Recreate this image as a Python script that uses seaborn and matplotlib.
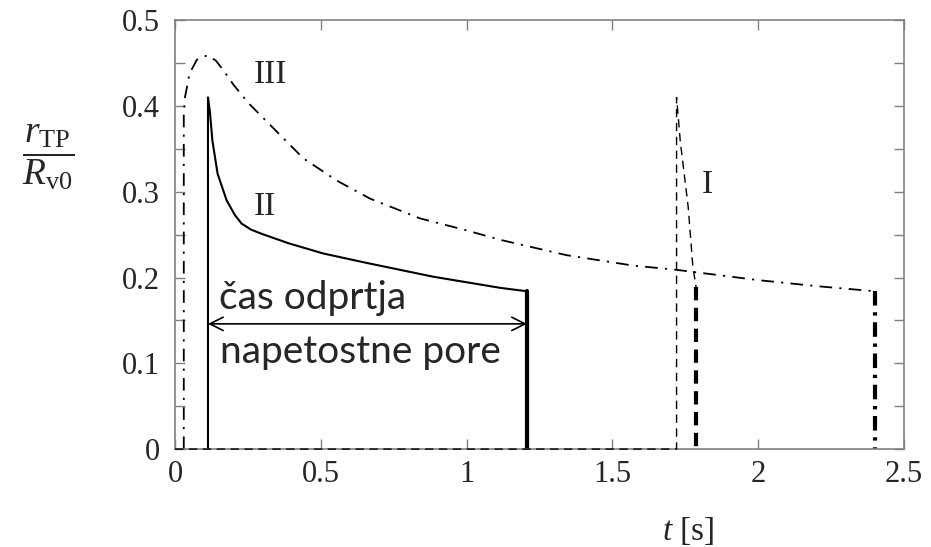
import numpy as np
import pandas as pd
import matplotlib
matplotlib.use("Agg")
import matplotlib.pyplot as plt
import seaborn as sns

# curve III (dash-dot)
t3 = [0.03, 0.03, 0.034, 0.05, 0.075, 0.11, 0.14, 0.165, 0.2, 0.25, 0.326, 0.44,
      0.555, 0.669, 0.84, 1.0, 1.115, 1.344, 1.57, 1.72, 2.0, 2.2, 2.40]
r3 = [0.0, 0.39, 0.41, 0.438, 0.454, 0.459, 0.453, 0.442, 0.425, 0.404, 0.378, 0.339,
      0.313, 0.292, 0.269, 0.255, 0.244, 0.226, 0.214, 0.209, 0.197, 0.19, 0.184]
# curve II (solid)
t2 = [0.113, 0.113, 0.12, 0.128, 0.146, 0.177, 0.205, 0.228, 0.26, 0.297, 0.389,
      0.509, 0.658, 0.885, 1.115, 1.207]
r2 = [0.0, 0.41, 0.392, 0.36, 0.321, 0.29, 0.273, 0.263, 0.256, 0.251, 0.24,
      0.228, 0.217, 0.201, 0.188, 0.184]
# curve I (dashed)
t1 = [0.0, 1.72, 1.72, 1.733, 1.76, 1.776, 1.787]
r1 = [0.0, 0.0, 0.41, 0.358, 0.282, 0.212, 0.189]

# pore closing (thick verticals)
t_end = [1.207, 1.787, 2.40]
r_end = [0.184, 0.189, 0.184]

# opening-time arrow
arrow_t = [0.113, 1.207]
arrow_r = 0.146

xticks = [0, 0.5, 1, 1.5, 2, 2.5]
xlabels = ["0", "0.5", "1", "1.5", "2", "2.5"]
yticks = [0, 0.05, 0.1, 0.15, 0.2, 0.25, 0.3, 0.35, 0.4, 0.45, 0.5]
ylabels = ["0", "", "0.1", "", "0.2", "", "0.3", "", "0.4", "", "0.5"]

sns.set_style("ticks")
plt.rcParams["font.family"] = ["Liberation Serif", "DejaVu Serif"]
plt.rcParams["mathtext.fontset"] = "custom"
plt.rcParams["mathtext.rm"] = "Liberation Serif"
plt.rcParams["mathtext.it"] = "Liberation Serif:italic"

fig = plt.figure(figsize=(9.31, 5.47), dpi=100)
ax = fig.add_axes([0.188, 0.179, 0.783, 0.784])

gray = "#808080"

sns.lineplot(x=t3, y=r3, sort=False, estimator=None, color="k", linewidth=1.3,
             linestyle=(0, (7, 4, 1.2, 4)), ax=ax)
sns.lineplot(x=t2, y=r2, sort=False, estimator=None, color="k", linewidth=1.5, ax=ax)
sns.lineplot(x=t1, y=r1, sort=False, estimator=None, color="k", linewidth=1.0,
             linestyle=(0, (6, 4)), clip_on=False, zorder=5, ax=ax)

# thick vertical segments at closing
sns.lineplot(x=[t_end[0], t_end[0]], y=[r_end[0], 0], sort=False, estimator=None,
             color="k", linewidth=3.0, ax=ax)
sns.lineplot(x=[t_end[1], t_end[1]], y=[r_end[1], 0], sort=False, estimator=None,
             color="k", linewidth=3.0, linestyle=(0, (3.2, 1.8)), ax=ax)
sns.lineplot(x=[t_end[2], t_end[2]], y=[r_end[2], 0], sort=False, estimator=None,
             color="k", linewidth=3.0, linestyle=(0, (3.5, 1.6, 0.8, 1.6)), ax=ax)

ax.annotate("", xy=(arrow_t[0], arrow_r), xytext=(arrow_t[1], arrow_r),
            arrowprops=dict(arrowstyle="<->", color="k", lw=1.2,
                            shrinkA=0, shrinkB=0, mutation_scale=24))

ax.text(0.15, 0.176, "čas odprtja", fontsize=28, family="Lato", va="center", ha="left")
ax.text(0.155, 0.113, "napetostne pore", fontsize=28, family="Lato", va="center", ha="left")

ax.text(0.326, 0.437, "III", fontsize=24, ha="center", va="center")
ax.text(0.309, 0.283, "II", fontsize=24, ha="center", va="center")
ax.text(1.825, 0.308, "I", fontsize=24, ha="center", va="center")

ax.set_xlim(0, 2.5)
ax.set_ylim(0, 0.5)
ax.set_xticks(xticks)
ax.set_xticklabels(xlabels)
ax.set_yticks(yticks)
ax.set_yticklabels(ylabels)
ax.tick_params(direction="in", length=7, width=1.0, color=gray, labelsize=22,
               top=True, right=True, pad=8)
ax.tick_params(axis="y", pad=11)
for s in ax.spines.values():
    s.set_color(gray)
    s.set_linewidth(1.2)
ax.set_xlabel("")
ax.set_ylabel("")

fig.text(688 / 931, 1 - 531 / 547, r"$t$ [s]", fontsize=24, ha="center", va="center")
fig.text(48 / 931, 1 - 157 / 547, r"$\dfrac{r_{\mathrm{TP}}}{R_{\mathrm{v0}}}$",
         fontsize=27, ha="center", va="center")

fig.savefig("out.png", dpi=100)
